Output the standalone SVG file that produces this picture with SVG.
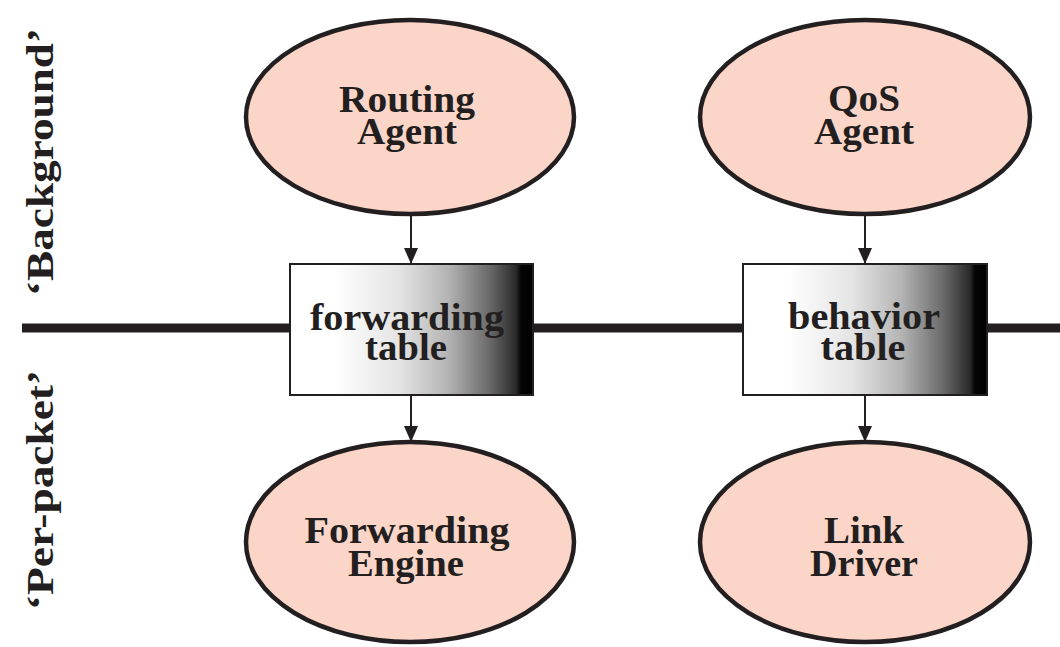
<svg xmlns="http://www.w3.org/2000/svg" width="1060" height="647" viewBox="0 0 1060 647">
  <style>
    .agent { fill: #fbd6c8; stroke: #231f20; stroke-width: 4.5; }
    .table { fill: url(#shade); stroke: #231f20; stroke-width: 2; }
    .lbl { font-family: "Liberation Serif", "Times New Roman", serif; font-weight: bold; font-size: 37px; fill: #231f20; text-anchor: middle; }
    .side { font-family: "Liberation Serif", "Times New Roman", serif; font-weight: bold; font-size: 37px; fill: #231f20; text-anchor: middle; }
    .bar { stroke: #231f20; stroke-width: 9; fill: none; }
    .arrow { stroke: #231f20; stroke-width: 2; fill: none; marker-end: url(#head); }
  </style>
  <defs>
    <linearGradient id="shade" x1="0" y1="0" x2="1" y2="0">
      <stop offset="0" stop-color="#ffffff"/>
      <stop offset="0.18" stop-color="#ffffff"/>
      <stop offset="0.45" stop-color="#e4e4e4"/>
      <stop offset="0.65" stop-color="#b4b4b4"/>
      <stop offset="0.82" stop-color="#6a6a6a"/>
      <stop offset="0.93" stop-color="#2a2a2a"/>
      <stop offset="0.95" stop-color="#050505"/>
      <stop offset="1" stop-color="#000000"/>
    </linearGradient>
    <marker id="head" viewBox="0 0 16 14" refX="16" refY="7" markerWidth="16" markerHeight="14" markerUnits="userSpaceOnUse" orient="auto">
      <path d="M0,0 L16,7 L0,14 Z" fill="#231f20"/>
    </marker>
  </defs>

  <!-- background / per-packet divider -->
  <g id="divider">
    <line class="bar" x1="22" y1="328" x2="291" y2="328"/>
    <line class="bar" x1="532" y1="328" x2="744" y2="328"/>
    <line class="bar" x1="986" y1="328" x2="1060" y2="328"/>
  </g>

  <!-- side captions -->
  <g id="side-labels">
    <text class="side" transform="translate(53,162) rotate(-90)" textLength="268" lengthAdjust="spacingAndGlyphs">‘Background’</text>
    <text class="side" transform="translate(53,490) rotate(-90)" textLength="240" lengthAdjust="spacingAndGlyphs">‘Per-packet’</text>
  </g>

  <!-- connectors -->
  <g id="connectors">
    <line class="arrow" x1="411" y1="214" x2="411" y2="264"/>
    <line class="arrow" x1="411" y1="395" x2="411" y2="442"/>
    <line class="arrow" x1="865" y1="214" x2="865" y2="264"/>
    <line class="arrow" x1="865" y1="395" x2="865" y2="442"/>
  </g>

  <g id="routing-agent">
    <ellipse class="agent" cx="410" cy="117" rx="164" ry="97"/>
    <text class="lbl" x="407" y="112" textLength="136" lengthAdjust="spacingAndGlyphs">Routing</text>
    <text class="lbl" x="407" y="144" textLength="100" lengthAdjust="spacingAndGlyphs">Agent</text>
  </g>

  <g id="qos-agent">
    <ellipse class="agent" cx="865" cy="117" rx="165" ry="97"/>
    <text class="lbl" x="864" y="111" textLength="72" lengthAdjust="spacingAndGlyphs">QoS</text>
    <text class="lbl" x="864" y="144" textLength="100" lengthAdjust="spacingAndGlyphs">Agent</text>
  </g>

  <g id="forwarding-table">
    <rect class="table" x="290" y="264" width="243" height="131"/>
    <text class="lbl" x="407" y="330" textLength="194" lengthAdjust="spacingAndGlyphs">forwarding</text>
    <text class="lbl" x="406" y="360" textLength="82" lengthAdjust="spacingAndGlyphs">table</text>
  </g>

  <g id="behavior-table">
    <rect class="table" x="743" y="264" width="244" height="131"/>
    <text class="lbl" x="864" y="329" textLength="152" lengthAdjust="spacingAndGlyphs">behavior</text>
    <text class="lbl" x="863" y="360" textLength="85" lengthAdjust="spacingAndGlyphs">table</text>
  </g>

  <g id="forwarding-engine">
    <ellipse class="agent" cx="410" cy="542" rx="164" ry="100"/>
    <text class="lbl" x="407" y="543" textLength="205" lengthAdjust="spacingAndGlyphs">Forwarding</text>
    <text class="lbl" x="406" y="576" textLength="116" lengthAdjust="spacingAndGlyphs">Engine</text>
  </g>

  <g id="link-driver">
    <ellipse class="agent" cx="865" cy="542" rx="165" ry="100"/>
    <text class="lbl" x="864" y="543" textLength="80" lengthAdjust="spacingAndGlyphs">Link</text>
    <text class="lbl" x="864" y="576" textLength="108" lengthAdjust="spacingAndGlyphs">Driver</text>
  </g>
</svg>
